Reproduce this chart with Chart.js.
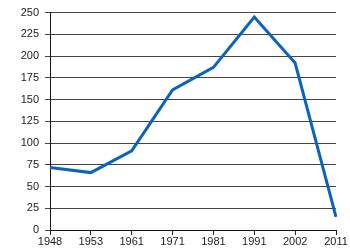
<!DOCTYPE html>
<html>
<head>
<meta charset="utf-8">
<script src="https://cdn.jsdelivr.net/npm/chart.js@4"></script>
<style>
html,body{margin:0;padding:0;background:#fff;}
#wrap{width:350px;height:250px;}
</style>
</head>
<body>
<div id="wrap"><canvas id="c" width="350" height="250"></canvas></div>
<script>
const years = ["1948","1953","1961","1971","1981","1991","2002","2011"];
const values = [72, 66, 91, 161, 187, 245, 192, 15];
const yTicks = [0,25,50,75,100,125,150,175,200,225,250];

new Chart(document.getElementById('c'), {
  type: 'line',
  data: {
    labels: years,
    datasets: [{
      data: values,
      borderColor: '#0b63c1',
      borderWidth: 3,
      pointRadius: 0,
      tension: 0,
      fill: false
    }]
  },
  options: {
    responsive: false,
    animation: false,
    devicePixelRatio: 1,
    plugins: { legend: { display: false }, tooltip: { enabled: false } },
    layout: { padding: { top: 5, right: 14, left: 0, bottom: 0 } },
    scales: {
      x: {
        offset: false,
        grid: { display: true, drawOnChartArea: false, color: '#222', tickLength: 5, lineWidth: 1 },
        border: { display: true, color: '#111', width: 1 },
        ticks: { color: '#222', font: { family: 'Liberation Sans, Arial', size: 11 }, padding: 0, maxRotation: 0, autoSkip: false },
        afterFit: s => { s.height = 20; }
      },
      y: {
        min: 0, max: 250,
        afterBuildTicks: s => { s.ticks = yTicks.map(v => ({ value: v })); },
        grid: { color: '#444', tickLength: 5, lineWidth: 1 },
        border: { display: true, color: '#111', width: 1 },
        ticks: { color: '#222', font: { family: 'Liberation Sans, Arial', size: 11 }, padding: 6 },
        afterFit: s => { s.width = 50; }
      }
    }
  }
});
</script>
</body>
</html>
